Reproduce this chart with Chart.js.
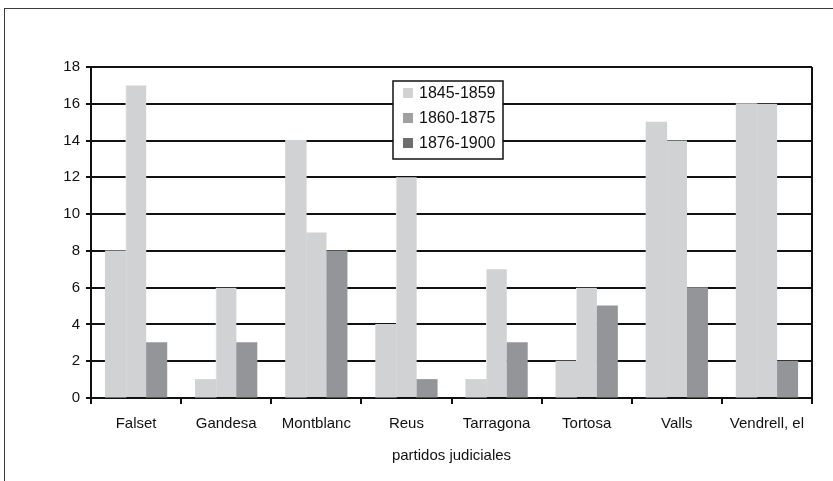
<!DOCTYPE html>
<html>
<head>
<meta charset="utf-8">
<script src="https://cdn.jsdelivr.net/npm/chart.js@4"></script>
<style>
  html, body { margin: 0; padding: 0; background: #fff; overflow: hidden; }
  .frame { position: absolute; left: 4px; top: 8px; width: 900px; height: 600px; border: 1px solid #3a3a3a; }
  #chart { position: absolute; left: 0; top: 0; }
</style>
</head>
<body>
<div class="frame"></div>
<canvas id="chart" width="833" height="481"></canvas>
<script>
  const categories = ["Falset", "Gandesa", "Montblanc", "Reus", "Tarragona", "Tortosa", "Valls", "Vendrell, el"];
  const seriesNames = ["1845-1859", "1860-1875", "1876-1900"];
  const values1845 = [8, 1, 14, 4, 1, 2, 15, 16];
  const values1860 = [17, 6, 9, 12, 7, 6, 14, 16];
  const values1876 = [3, 3, 8, 1, 3, 5, 6, 2];
  const yTicks = [0, 2, 4, 6, 8, 10, 12, 14, 16, 18];

  const barColors = ["#d1d2d4", "#d1d2d4", "#939598"];
  const legendColors = ["#d2d2d2", "#a0a0a0", "#6e6e6e"];
  const FONT = "'Liberation Sans Narrow', 'Arial Narrow', 'Liberation Sans', sans-serif";

  // legend drawn inside the plot, boxed, like the original
  const boxLegend = {
    id: "boxLegend",
    afterDatasetsDraw(chart) {
      const ctx = chart.ctx;
      const x = 393, y = 81, w = 110, h = 78;
      ctx.save();
      ctx.fillStyle = "#fff";
      ctx.fillRect(x, y, w, h);
      ctx.strokeStyle = "#111";
      ctx.lineWidth = 1.5;
      ctx.strokeRect(x, y, w, h);
      ctx.font = "16px " + FONT;
      ctx.textBaseline = "middle";
      seriesNames.forEach((name, i) => {
        const cy = y + 12 + i * 25;
        ctx.fillStyle = legendColors[i];
        ctx.fillRect(x + 10, cy - 5, 10, 10);
        ctx.fillStyle = "#111";
        ctx.fillText(name, x + 26, cy + 1);
      });
      ctx.restore();
    },
    afterDraw(chart) {
      const a = chart.chartArea, ctx = chart.ctx;
      ctx.save();
      ctx.strokeStyle = "#111";
      ctx.lineWidth = 2;
      ctx.beginPath();
      ctx.moveTo(a.right, a.top);
      ctx.lineTo(a.right, a.bottom + 5);
      ctx.stroke();
      ctx.restore();
    }
  };

  new Chart(document.getElementById("chart"), {
    type: "bar",
    data: {
      labels: categories,
      datasets: [
        { label: seriesNames[0], data: values1845, backgroundColor: barColors[0] },
        { label: seriesNames[1], data: values1860, backgroundColor: barColors[1],
          borderColor: "#ececec", borderWidth: { left: 1, right: 0, top: 0, bottom: 0 } },
        { label: seriesNames[2], data: values1876, backgroundColor: barColors[2] },
      ],
    },
    options: {
      responsive: false,
      animation: false,
      layout: { padding: { top: 67, right: 21, bottom: 0, left: 0 } },
      datasets: {
        bar: { categoryPercentage: 0.68, barPercentage: 1, inflateAmount: 0.5 },
      },
      plugins: {
        legend: { display: false },
        tooltip: { enabled: false },
      },
      scales: {
        x: {
          offset: true,
          grid: { offset: true, drawOnChartArea: false, drawTicks: true, tickLength: 6, color: "#111", lineWidth: 2 },
          border: { display: true, color: "#111", width: 2 },
          ticks: { color: "#111", font: { family: FONT, size: 15 }, padding: 11, maxRotation: 0 },
          title: { display: true, text: "partidos judiciales", color: "#111", font: { family: FONT, size: 15 }, padding: { top: 6, bottom: 16 } },
          afterFit(scale) { scale.height = 83; },
        },
        y: {
          min: 0,
          max: 18,
          afterBuildTicks(scale) { scale.ticks = yTicks.map((v) => ({ value: v })); },
          grid: { color: "#111", lineWidth: 2, tickLength: 5, drawTicks: true },
          border: { display: true, color: "#111", width: 2 },
          ticks: { color: "#111", font: { family: FONT, size: 15 }, padding: 6 },
          afterFit(scale) { scale.width = 91; },
        },
      },
    },
    plugins: [boxLegend],
  });
</script>
</body>
</html>
